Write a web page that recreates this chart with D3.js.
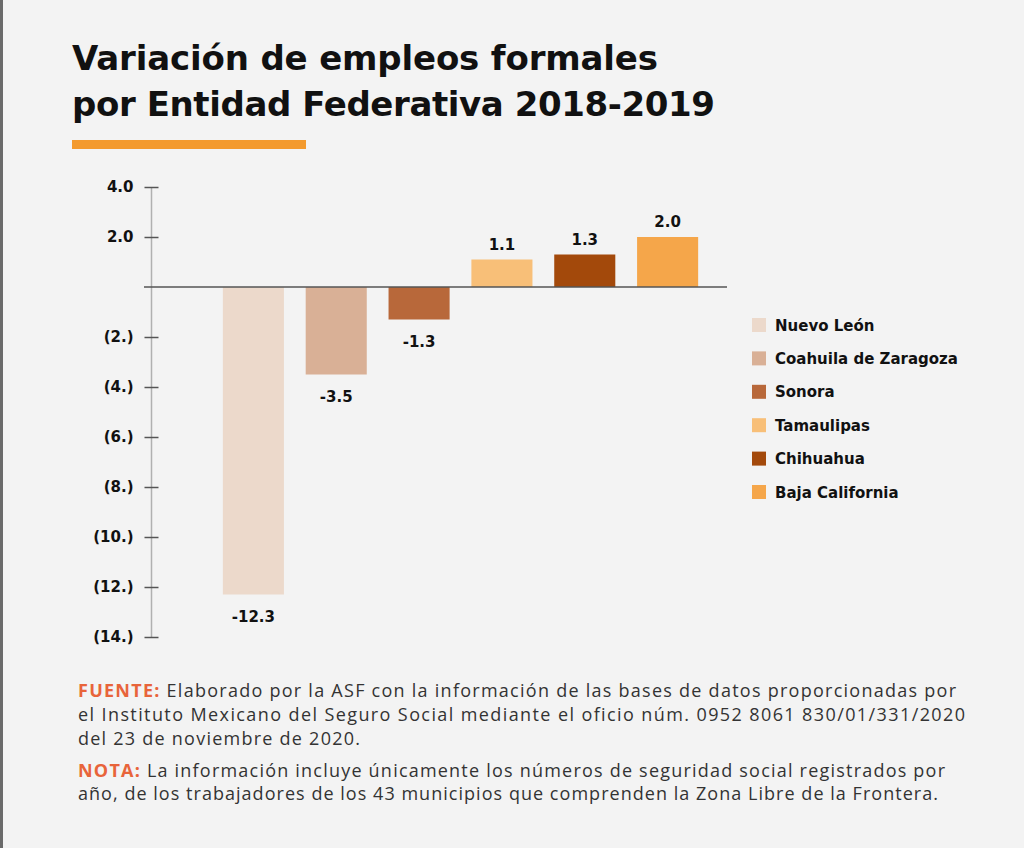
<!DOCTYPE html>
<html>
<head>
<meta charset="utf-8">
<script src="https://cdn.jsdelivr.net/npm/d3@7"></script>
<style>
  body { margin: 0; background: #f3f3f3; }
  svg { display: block; }
</style>
</head>
<body>
<div id="chart"></div>
<script>
var estados = ["Nuevo León", "Coahuila de Zaragoza", "Sonora", "Tamaulipas", "Chihuahua", "Baja California"];
var variacion = [-12.3, -3.5, -1.3, 1.1, 1.3, 2.0];
var colores = ["#ecd9cb", "#d9b096", "#b8683a", "#f8bf78", "#a3490b", "#f5a64a"];
var etiquetas = ["-12.3", "-3.5", "-1.3", "1.1", "1.3", "2.0"];
var ticksY = [4, 2, -2, -4, -6, -8, -10, -12, -14];
var ticksTexto = ["4.0", "2.0", "(2.)", "(4.)", "(6.)", "(8.)", "(10.)", "(12.)", "(14.)"];

var W = 1024, H = 848;
var fuenteNegrita = '"DejaVu Sans", sans-serif';

var svg = d3.select('#chart')
	.append('svg')
		.attr('width', W)
		.attr('height', H);

svg.append('rect')
	.attr('width', W).attr('height', H)
	.attr('fill', '#f3f3f3');
svg.append('rect')
	.attr('x', 0).attr('width', 3).attr('height', H)
	.attr('fill', '#6a6a6a');

// ajusta el espaciado para que una linea termine donde en el original
function ajustarAncho(t, ancho) {
	var n = t.text().length;
	var actual = t.node().getComputedTextLength();
	t.attr('letter-spacing', ((ancho - actual) / (n - 1)) + 'px');
}

// titulo
var lineasTitulo = ['Variación de empleos formales', 'por Entidad Federativa 2018-2019'];
var anchoTitulo = [586, 643];
lineasTitulo.forEach(function(l, i) {
	var t = svg.append('text')
		.attr('x', 72)
		.attr('y', 70 + i * 46)
		.attr('font-family', fuenteNegrita)
		.attr('font-weight', 700)
		.attr('font-size', 34)
		.attr('fill', '#111')
		.text(l);
	ajustarAncho(t, anchoTitulo[i]);
});

svg.append('rect')
	.attr('x', 72).attr('y', 140)
	.attr('width', 234).attr('height', 9)
	.attr('fill', '#f39a2e');

// escalas
var y = d3.scaleLinear()
	.domain([-14, 4])
	.range([637, 187]);

var x = d3.scaleBand()
	.domain(estados)
	.range([198, 723])
	.paddingInner(0.263)
	.paddingOuter(0.3);

// eje y
svg.append('line')
	.attr('x1', 151.5).attr('x2', 151.5)
	.attr('y1', y(4)).attr('y2', y(-14))
	.attr('stroke', '#b0b0b0')
	.attr('stroke-width', 1.5);

var ejeY = d3.axisLeft(y)
	.tickValues(ticksY)
	.tickFormat(function(d, i) { return ticksTexto[i]; })
	.tickSize(7)
	.tickPadding(11);

var gEje = svg.append('g')
	.attr('transform', 'translate(151.5,0)')
	.call(ejeY);
gEje.select('.domain').remove();
gEje.selectAll('.tick line')
	.attr('x1', -7).attr('x2', 7)
	.attr('stroke', '#555')
	.attr('stroke-width', 1.5);
gEje.selectAll('.tick text')
	.attr('font-family', fuenteNegrita)
	.attr('font-weight', 700)
	.attr('font-size', 15)
	.attr('fill', '#111');

// barras
svg.selectAll('rect.barra')
	.data(variacion)
	.enter()
	.append('rect')
		.attr('class', 'barra')
		.attr('x', function(d, i) { return x(estados[i]); })
		.attr('y', function(d) { return y(Math.max(0, d)); })
		.attr('width', x.bandwidth())
		.attr('height', function(d) { return Math.abs(y(d) - y(0)); })
		.attr('fill', function(d, i) { return colores[i]; });

// linea cero
svg.append('line')
	.attr('x1', 144).attr('x2', 727)
	.attr('y1', y(0)).attr('y2', y(0))
	.attr('stroke', '#555')
	.attr('stroke-width', 1.5);

// etiquetas de valor
svg.selectAll('text.valor')
	.data(variacion)
	.enter()
	.append('text')
		.attr('class', 'valor')
		.attr('x', function(d, i) { return x(estados[i]) + x.bandwidth() / 2; })
		.attr('y', function(d) { return d < 0 ? y(d) + 27 : y(d) - 10; })
		.attr('text-anchor', 'middle')
		.attr('font-family', fuenteNegrita)
		.attr('font-weight', 700)
		.attr('font-size', 15)
		.attr('fill', '#111')
		.text(function(d, i) { return etiquetas[i]; });

// leyenda
var leyenda = svg.selectAll('g.leyenda')
	.data(estados)
	.enter()
	.append('g')
		.attr('class', 'leyenda')
		.attr('transform', function(d, i) { return 'translate(752,' + (325 + i * 33.4) + ')'; });

leyenda.append('rect')
	.attr('x', 0).attr('y', -7)
	.attr('width', 14).attr('height', 14)
	.attr('fill', function(d, i) { return colores[i]; });

leyenda.append('text')
	.attr('x', 23)
	.attr('y', 5.5)
	.attr('font-family', fuenteNegrita)
	.attr('font-weight', 700)
	.attr('font-size', 15)
	.attr('fill', '#111')
	.text(function(d) { return d; });

// notas
var notas = [
	[["FUENTE: ", true], ["Elaborado por la ASF con la información de las bases de datos proporcionadas por", false]],
	[["el Instituto Mexicano del Seguro Social mediante el oficio núm. 0952 8061 830/01/331/2020", false]],
	[["del 23 de noviembre de 2020.", false]],
	[["NOTA: ", true], ["La información incluye únicamente los números de seguridad social registrados por", false]],
	[["año, de los trabajadores de los 43 municipios que comprenden la Zona Libre de la Frontera.", false]]
];
var baseNotas = [697, 721, 745, 777, 800];
var anchoNotas = [878, 887, 282, 867, 860];

notas.forEach(function(linea, i) {
	var t = svg.append('text')
		.attr('x', 78)
		.attr('y', baseNotas[i])
		.attr('font-family', '"Open Sans", sans-serif')
		.attr('font-size', 18)
		.attr('fill', '#333');
	linea.forEach(function(parte) {
		t.append('tspan')
			.attr('font-weight', parte[1] ? 700 : 400)
			.attr('fill', parte[1] ? '#e8643a' : '#333')
			.text(parte[0]);
	});
	ajustarAncho(t, anchoNotas[i]);
});
</script>
</body>
</html>
